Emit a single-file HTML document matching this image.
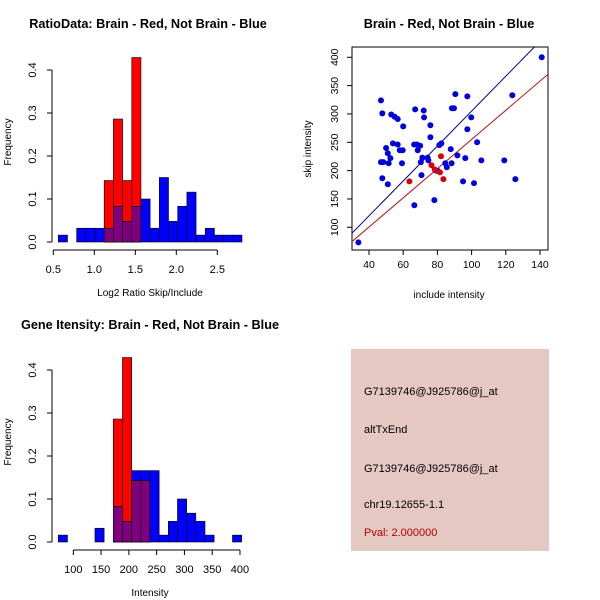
<!DOCTYPE html>
<html><head><meta charset="utf-8"><style>
body{margin:0;background:#fff}
svg{display:block;font-family:"Liberation Sans",Arial,sans-serif}
</style></head><body>
<svg id="s" width="600" height="600" xmlns="http://www.w3.org/2000/svg">
<rect width="600" height="600" fill="#fff"/>
<g id="p1"></g>
<g id="p2"></g>
<g id="p3"></g>
<g>
<rect x="351" y="349" width="198" height="202" fill="#e5c8c2"/>
<g font-size="11" fill="#000">
<text x="364" y="395">G7139746@J925786@j_at</text>
<text x="364" y="433">altTxEnd</text>
<text x="364" y="472">G7139746@J925786@j_at</text>
<text x="364" y="508">chr19.12655-1.1</text>
<text x="364" y="536" fill="#b00000">Pval: 2.000000</text>
</g></g>
</svg>
<script>
// ---- data ----
const ratioBinStart = 0.561, ratioBinWidth = 0.112;
const ratioBlue = [0.016,0,0.032,0.032,0.032,0.032,0.083,0.048,0.083,0.1,0.032,0.15,0.048,0.083,0.116,0.016,0.032,0.016,0.016,0.016];
const ratioRed  = [0,0,0,0,0,0.143,0.286,0.143,0.429,0,0,0,0,0,0,0,0,0,0,0];
const ratioXTicks = [0.5,1.0,1.5,2.0,2.5];
const freqTicks = [0.0,0.1,0.2,0.3,0.4];
const intBinStart = 73, intBinWidth = 16.5;
const intBlue = [0.016,0,0,0,0.032,0,0.083,0.048,0.166,0.166,0.166,0.016,0.048,0.1,0.067,0.048,0.016,0,0,0.016];
const intRed  = [0,0,0,0,0,0,0.286,0.429,0.143,0.143,0,0,0,0,0,0,0,0,0,0];
const intXTicks = [100,150,200,250,300,350,400];
const blueX = [33.8,47,47.8,47.8,47,48.4,53,55,56.8,54,56.8,50,51,52.5,51.5,51,58,59.7,59.3,60,67,72,72.2,66.4,68.1,69.9,68.5,71.2,70.3,70.7,74.3,74.7,75.9,75.9,81.1,82.3,66.5,78.2,79.2,80.2,84.6,85.5,87.8,88.3,88.5,89.7,90.5,91.7,97.5,97.5,99.8,96.3,95,101.4,103.2,105.7,119.1,123.8,125.6,141];
const blueY = [73.5,324,301,186.5,215,215,299,295,291,248,246,240,230.6,222,213,176,236,236,213,278,308,306,294,246,246,244,236,223,215,192,223,218,280,259,245,248,139,148,200,199.5,213,206,238,213,310,310,335,227,331,273,294,222,181,178,250,218,218,333,185,400];
const redX = [63.6,76.5,82.1,81.5,83.5,78.4];
const redY = [181,209.6,225.3,197,185,202];
const blueFit = [3.08,-3];   // slope, intercept
const redFit = [2.576,-2.6];
const scatXTicks = [40,60,80,100,120,140];
const scatYTicks = [100,150,200,250,300,350,400];

const NS="http://www.w3.org/2000/svg";
function mk(parent,tag,attrs){const e=document.createElementNS(NS,tag);for(const k in attrs)e.setAttribute(k,attrs[k]);parent.appendChild(e);return e;}
function txt(parent,x,y,s,attrs){const e=mk(parent,'text',Object.assign({x:x,y:y,'font-size':11,'text-anchor':'middle'},attrs||{}));e.textContent=s;return e;}

function hist(g,o){
  const sx=v=>o.x0+(v-o.v0)*o.k, sy=v=>o.y0-v*o.ky;
  for(let i=0;i<o.blue.length;i++){
    const a=sx(o.start+i*o.w), b=sx(o.start+(i+1)*o.w);
    const bv=o.blue[i], rv=o.red[i];
    if(bv>0){const r=mk(g,'rect',{x:a,y:sy(bv),width:b-a,height:sy(0)-sy(bv),fill:'#0000ff',stroke:'#000','stroke-width':0.6});
      
      }
    if(rv>0){const r=mk(g,'rect',{x:a,y:sy(rv),width:b-a,height:sy(0)-sy(rv),fill:'#ff0000',stroke:'#000','stroke-width':0.6});
      
      
      const m=Math.min(bv,rv);
      if(m>0){const p=mk(g,'rect',{x:a,y:sy(m),width:b-a,height:sy(0)-sy(m),fill:'#7f007f',stroke:'#000','stroke-width':0.6});
        
        }}
  }
  const ya=mk(g,'line',{x1:o.yax,x2:o.yax,y1:sy(0),y2:sy(0.4),stroke:'#000'});
  
  
  freqTicks.forEach(t=>{mk(g,'line',{x1:o.yax-5,x2:o.yax,y1:sy(t),y2:sy(t),stroke:'#000'});
    const l=txt(g,0,0,t.toFixed(1),{transform:`translate(${o.yax-16},${sy(t)}) rotate(-90)`});
    
    });
  const xa=mk(g,'line',{x1:sx(o.ticks[0]),x2:sx(o.ticks[o.ticks.length-1]),y1:o.xay,y2:o.xay,stroke:'#000'});
  
  
  o.ticks.forEach(t=>{mk(g,'line',{x1:sx(t),x2:sx(t),y1:o.xay,y2:o.xay+5,stroke:'#000'});
    const l=txt(g,sx(t),o.xay+23,o.fmt(t));
    
    });
  const ti=txt(g,o.tx,o.ty,o.title,{'font-weight':'bold','font-size':12.7});
  
  
  const xl=txt(g,150,o.xay+46,o.xlab,{'font-size':10});
  
  
  const yl=txt(g,0,0,'Frequency',{'font-size':10,transform:`translate(11,${o.y0-100}) rotate(-90)`});
  
  
}
hist(document.getElementById('p1'),{x0:53.3,v0:0.5,k:82,y0:242,ky:430,start:ratioBinStart,w:ratioBinWidth,blue:ratioBlue,red:ratioRed,
  yax:52,xay:250,ticks:ratioXTicks,fmt:t=>t.toFixed(1),title:'RatioData: Brain - Red, Not Brain - Blue',tx:148,ty:28,xlab:'Log2 Ratio Skip/Include'});
hist(document.getElementById('p3'),{x0:73.3,v0:100,k:0.5556,y0:542,ky:430,start:intBinStart,w:intBinWidth,blue:intBlue,red:intRed,
  yax:52,xay:550,ticks:intXTicks,fmt:t=>String(t),title:'Gene Itensity: Brain - Red, Not Brain - Blue',tx:150,ty:329,xlab:'Intensity'});

(function(){
  const g=document.getElementById('p2');
  const L=352,R=548,T=47,B=250;
  const sx=v=>369+(v-40)*1.71, sy=v=>227.3-(v-100)*0.5667;
  const cp=mk(g,'clipPath',{id:'cp'});mk(cp,'rect',{x:L,y:T,width:R-L,height:B-T});
  const box=mk(g,'rect',{x:L,y:T,width:R-L,height:B-T,fill:'none',stroke:'#000'});
  
  
  const x1=25,x2=150;
  const bl=mk(g,'line',{x1:sx(x1),y1:sy(blueFit[0]*x1+blueFit[1]),x2:sx(x2),y2:sy(blueFit[0]*x2+blueFit[1]),stroke:'#00008b','clip-path':'url(#cp)'});
  
  
  const rl=mk(g,'line',{x1:sx(x1),y1:sy(redFit[0]*x1+redFit[1]),x2:sx(x2),y2:sy(redFit[0]*x2+redFit[1]),stroke:'#c01010','clip-path':'url(#cp)'});
  
  
  blueX.forEach((x,i)=>{const c=mk(g,'circle',{cx:sx(x),cy:sy(blueY[i]),r:3,fill:'#0000dd'});
    
    });
  redX.forEach((x,i)=>{const c=mk(g,'circle',{cx:sx(x),cy:sy(redY[i]),r:3,fill:'#dd0000'});
    
    });
  scatXTicks.forEach(t=>{mk(g,'line',{x1:sx(t),x2:sx(t),y1:B,y2:B+5,stroke:'#000'});
    const l=txt(g,sx(t),B+18,String(t),{'font-size':10.5});
    
    });
  scatYTicks.forEach(t=>{mk(g,'line',{x1:L-5,x2:L,y1:sy(t),y2:sy(t),stroke:'#000'});
    const l=txt(g,0,0,String(t),{'font-size':10.5,transform:`translate(${L-14},${sy(t)}) rotate(-90)`});
    
    });
  const ti=txt(g,449,28,'Brain - Red, Not Brain - Blue',{'font-weight':'bold','font-size':12.7});
  
  
  const xl=txt(g,449,298,'include intensity',{'font-size':10});
  
  
  const yl=txt(g,0,0,'skip intensity',{'font-size':10,transform:`translate(311,149) rotate(-90)`});
  
  
})();
</script>
</body></html>
